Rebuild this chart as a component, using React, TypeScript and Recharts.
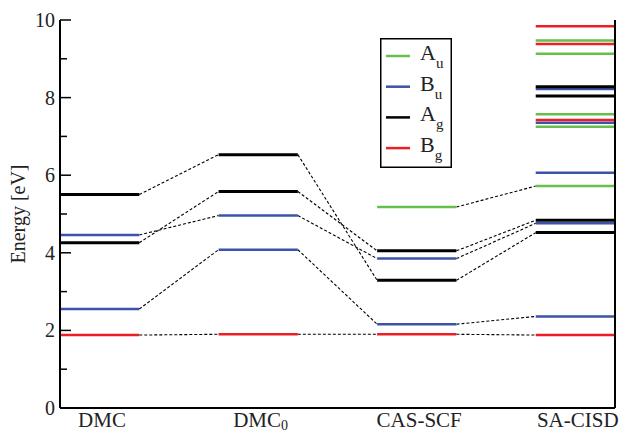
import { ComposedChart, Legend, Line, XAxis, YAxis } from "recharts";

const methods = ["DMC", "DMC0", "CAS-SCF", "SA-CISD"];
const symmetries = ["Au", "Bu", "Ag", "Bg"];
const symmetryColors = ["#66bf4a", "#3b53a8", "#000000", "#ec1f26"];

// excitation energies [eV], one list per method and symmetry
const dmcAu: number[] = [];
const dmcBu = [4.46, 2.55];
const dmcAg = [5.5, 4.26];
const dmcBg = [1.88];

const dmc0Au: number[] = [];
const dmc0Bu = [4.96, 4.08];
const dmc0Ag = [6.53, 5.58];
const dmc0Bg = [1.9];

const casAu = [5.18];
const casBu = [3.85, 2.16];
const casAg = [4.05, 3.29];
const casBg = [1.9];

const cisdAu = [9.47, 9.13, 7.57, 7.25, 5.72];
const cisdBu = [8.22, 7.35, 6.06, 4.76, 2.36];
const cisdAg = [8.28, 8.04, 4.84, 4.52];
const cisdBg = [9.84, 9.38, 7.42, 1.88];

// dashed correlation lines between neighbouring columns: [from, to]
const dmcToDmc0 = [
  [5.5, 6.53],
  [4.46, 4.96],
  [4.26, 5.58],
  [2.55, 4.08],
  [1.88, 1.9],
];
const dmc0ToCas = [
  [6.53, 3.29],
  [5.58, 4.05],
  [4.96, 3.85],
  [4.08, 2.16],
  [1.9, 1.9],
];
const casToCisd = [
  [5.18, 5.72],
  [4.05, 4.84],
  [3.85, 4.76],
  [3.29, 4.52],
  [2.16, 2.36],
  [1.9, 1.88],
];

const energyTicks = [0, 1, 2, 3, 4, 5, 6, 7, 8, 9, 10];

const levelsByMethod = [
  [dmcAu, dmcBu, dmcAg, dmcBg],
  [dmc0Au, dmc0Bu, dmc0Ag, dmc0Bg],
  [casAu, casBu, casAg, casBg],
  [cisdAu, cisdBu, cisdAg, cisdBg],
];
const linksByStep = [dmcToDmc0, dmc0ToCas, casToCisd];

const serif = { fontFamily: "Liberation Serif" };
const levelWidth = 0.5;

function LeftTick({ x, y, payload }: any) {
  const major = payload.value % 2 === 0;
  return (
    <g>
      <line x1={x} x2={x + (major ? 11 : 7)} y1={y} y2={y} stroke="#000" strokeWidth={1.5} />
      {major && (
        <text x={x - 5} y={y} dy="0.35em" textAnchor="end" fontSize={20} style={serif} fill="#222">
          {payload.value}
        </text>
      )}
    </g>
  );
}

function RightTick({ x, y, payload }: any) {
  const major = payload.value % 2 === 0;
  return <line x1={x} x2={x - (major ? 11 : 7)} y1={y} y2={y} stroke="#000" strokeWidth={1.5} />;
}

function MethodTick({ x, y, payload }: any) {
  const name = methods[Math.floor(payload.value)];
  const sub = name === "DMC0";
  return (
    <text x={x} y={y + 19} textAnchor="middle" fontSize={21} style={serif} fill="#222">
      {sub ? "DMC" : name}
      {sub && (
        <tspan dy={3} fontSize={14}>
          0
        </tspan>
      )}
    </text>
  );
}

function EnergyLabel({ viewBox }: any) {
  const cx = 25;
  const cy = viewBox.y + viewBox.height / 2;
  return (
    <text
      x={cx}
      y={cy}
      transform={`rotate(-90, ${cx}, ${cy})`}
      textAnchor="middle"
      fontSize={20}
      style={serif}
      fill="#222"
    >
      Energy [eV]
    </text>
  );
}

function LevelLegend() {
  return (
    <svg width={72} height={130}>
      <rect x={0.75} y={0.75} width={70.5} height={128.5} fill="#fff" stroke="#000" strokeWidth={1.5} />
      {symmetries.map((s, i) => {
        const cy = 18 + i * 30.7;
        return (
          <g key={s}>
            <line x1={6} x2={30} y1={cy} y2={cy} stroke={symmetryColors[i]} strokeWidth={2.5} />
            <text x={40} y={cy + 4} fontSize={22} style={serif} fill="#222">
              {s[0]}
              <tspan dy={8} fontSize={15}>
                {s[1]}
              </tspan>
            </text>
          </g>
        );
      })}
    </svg>
  );
}

export default function App() {
  const links = linksByStep.flatMap((pairs, step) =>
    pairs.map(([from, to], i) => (
      <Line
        key={`link-${step}-${i}`}
        data={[
          { x: step + levelWidth, y: from },
          { x: step + 1, y: to },
        ]}
        dataKey="y"
        stroke="#000"
        strokeWidth={1.1}
        strokeDasharray="3 2"
        dot={false}
        activeDot={false}
        isAnimationActive={false}
        legendType="none"
      />
    ))
  );

  const levels = levelsByMethod.flatMap((bySym, m) =>
    bySym.flatMap((values, s) =>
      values.map((v, i) => (
        <Line
          key={`level-${m}-${s}-${i}`}
          data={[
            { x: m, y: v },
            { x: m + levelWidth, y: v },
          ]}
          dataKey="y"
          stroke={symmetryColors[s]}
          strokeWidth={s === 2 ? 3 : 2.5}
          dot={false}
          activeDot={false}
          isAnimationActive={false}
          legendType="none"
        />
      ))
    )
  );

  return (
    <div style={{ position: "absolute", left: 0, top: 0, width: 620, height: 433, background: "#fff" }}>
      <ComposedChart width={620} height={433} margin={{ top: 20, right: 0, bottom: 0, left: 0 }}>
        <XAxis
          type="number"
          dataKey="x"
          domain={[0, 3.5]}
          ticks={methods.map((_, i) => i + 0.265)}
          tick={<MethodTick />}
          tickLine={false}
          tickSize={0}
          tickMargin={0}
          height={25}
          interval={0}
          axisLine={{ stroke: "#000", strokeWidth: 2 }}
          allowDataOverflow
        />
        <XAxis
          xAxisId="top"
          orientation="top"
          type="number"
          domain={[0, 3.5]}
          height={0}
          tick={false}
          tickLine={false}
          axisLine={{ stroke: "#000", strokeWidth: 2 }}
        />
        <YAxis
          type="number"
          domain={[0, 10]}
          ticks={energyTicks}
          interval={0}
          width={60}
          tick={<LeftTick />}
          tickLine={false}
          tickSize={0}
          tickMargin={0}
          axisLine={{ stroke: "#000", strokeWidth: 2 }}
          label={<EnergyLabel />}
          allowDataOverflow
        />
        <YAxis
          yAxisId="right"
          orientation="right"
          type="number"
          domain={[0, 10]}
          ticks={energyTicks}
          interval={0}
          width={5}
          tick={<RightTick />}
          tickLine={false}
          tickSize={0}
          tickMargin={0}
          axisLine={{ stroke: "#000", strokeWidth: 2 }}
        />
        <Legend
          layout="vertical"
          align="center"
          verticalAlign="middle"
          content={<LevelLegend />}
          wrapperStyle={{ position: "absolute", left: 380, top: 38, width: 72, height: 130 }}
        />
        {links}
        {levels}
      </ComposedChart>
    </div>
  );
}
